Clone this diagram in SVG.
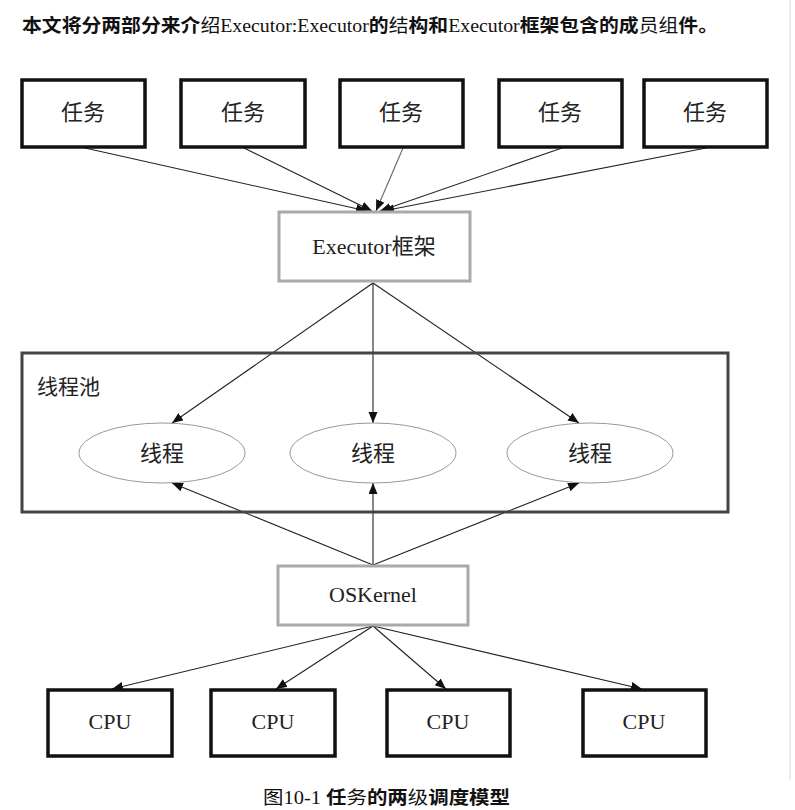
<svg xmlns="http://www.w3.org/2000/svg" width="795" height="810" viewBox="0 0 795 810">
<style>
.cn{font-family:"Liberation Serif","Noto Sans CJK SC",serif;font-size:22px;fill:#222;text-anchor:middle}
.task{fill:#fff;stroke:#111;stroke-width:3.5}
.gray{fill:#fff;stroke:#aaa;stroke-width:3}
.ell{fill:#fff;stroke:#999;stroke-width:1}
.ln{stroke:#222;stroke-width:1.1;fill:none;marker-end:url(#ah)}
</style>
<defs>
<marker id="ah" markerUnits="userSpaceOnUse" markerWidth="12" markerHeight="10" refX="11" refY="4.5" orient="auto">
<path d="M0,0 L11,4.5 L0,9 z" fill="#111"/>
</marker>
</defs>
<rect width="795" height="810" fill="#fff"/>
<line x1="790" y1="0" x2="790" y2="780" stroke="#ddd" stroke-width="1"/>
<text x="22" y="32" textLength="696" lengthAdjust="spacingAndGlyphs" style="font-family:'Noto Sans CJK SC',sans-serif;font-size:18.5px;font-weight:bold;fill:#111">本文将分两部分来介<tspan font-weight="normal">绍</tspan><tspan style="font-family:'Liberation Serif',serif;font-weight:normal">Executor:Executor</tspan>的<tspan font-weight="normal">结</tspan>构和<tspan style="font-family:'Liberation Serif',serif;font-weight:normal">Executor</tspan>框架包含的成<tspan font-weight="normal">员组</tspan>件。</text>
<g id="connectors">
<line class="ln" x1="85" y1="148" x2="367" y2="211"/>
<line class="ln" x1="244" y1="148" x2="372" y2="211"/>
<line class="ln" x1="403" y1="148" x2="376" y2="211" style="stroke:#666"/>
<line class="ln" x1="562" y1="148" x2="380" y2="211"/>
<line class="ln" x1="706" y1="148" x2="383" y2="211"/>
<line class="ln" x1="373" y1="283" x2="172" y2="423"/>
<line class="ln" x1="373" y1="283" x2="373" y2="423"/>
<line class="ln" x1="373" y1="283" x2="579" y2="423"/>
<line class="ln" x1="373" y1="565" x2="172" y2="483"/>
<line class="ln" x1="373" y1="565" x2="373" y2="483"/>
<line class="ln" x1="373" y1="565" x2="579" y2="483"/>
<line class="ln" x1="373" y1="626" x2="112" y2="689"/>
<line class="ln" x1="373" y1="626" x2="276" y2="689"/>
<line class="ln" x1="373" y1="626" x2="446" y2="689"/>
<line class="ln" x1="373" y1="626" x2="642" y2="689"/>
</g>
<g id="task1"><rect class="task" x="22" y="80" width="123" height="67"/><text class="cn" x="83" y="120">任务</text></g>
<g id="task2"><rect class="task" x="181" y="80" width="124" height="67"/><text class="cn" x="243" y="120">任务</text></g>
<g id="task3"><rect class="task" x="340" y="80" width="123" height="67"/><text class="cn" x="401" y="120">任务</text></g>
<g id="task4"><rect class="task" x="499" y="80" width="123" height="67"/><text class="cn" x="560" y="120">任务</text></g>
<g id="task5"><rect class="task" x="644" y="80" width="123" height="67"/><text class="cn" x="705" y="120">任务</text></g>
<g id="executor"><rect class="gray" x="279" y="212" width="191" height="69"/><text class="cn" x="374" y="254">Executor框架</text></g>
<g id="pool"><rect x="22" y="353" width="706" height="159" fill="none" stroke="#444" stroke-width="3"/><text class="cn" x="37" y="394" style="text-anchor:start;font-size:21px">线程池</text></g>
<g id="thread1"><ellipse class="ell" cx="162" cy="453" rx="83" ry="30"/><text class="cn" x="162" y="461">线程</text></g>
<g id="thread2"><ellipse class="ell" cx="373" cy="453" rx="83" ry="30"/><text class="cn" x="373" y="461">线程</text></g>
<g id="thread3"><ellipse class="ell" cx="590" cy="453" rx="83" ry="30"/><text class="cn" x="590" y="461">线程</text></g>
<g id="oskernel"><rect class="gray" x="278" y="566" width="190" height="59"/><text class="cn" x="373" y="602">OSKernel</text></g>
<g id="cpu1"><rect class="task" x="48" y="690" width="124" height="66"/><text class="cn" x="110" y="729">CPU</text></g>
<g id="cpu2"><rect class="task" x="211" y="690" width="124" height="66"/><text class="cn" x="273" y="729">CPU</text></g>
<g id="cpu3"><rect class="task" x="387" y="690" width="123" height="66"/><text class="cn" x="448" y="729">CPU</text></g>
<g id="cpu4"><rect class="task" x="583" y="690" width="123" height="66"/><text class="cn" x="644" y="729">CPU</text></g>
<text x="263" y="804" textLength="247" lengthAdjust="spacingAndGlyphs" style="font-family:'Noto Sans CJK SC',sans-serif;font-size:18px;fill:#111"><tspan style="font-family:'Liberation Serif','Noto Sans CJK SC',serif">图10-1  </tspan><tspan font-weight="bold">任</tspan>务<tspan font-weight="bold">的两</tspan>级<tspan font-weight="bold">调度模型</tspan></text>
</svg>
